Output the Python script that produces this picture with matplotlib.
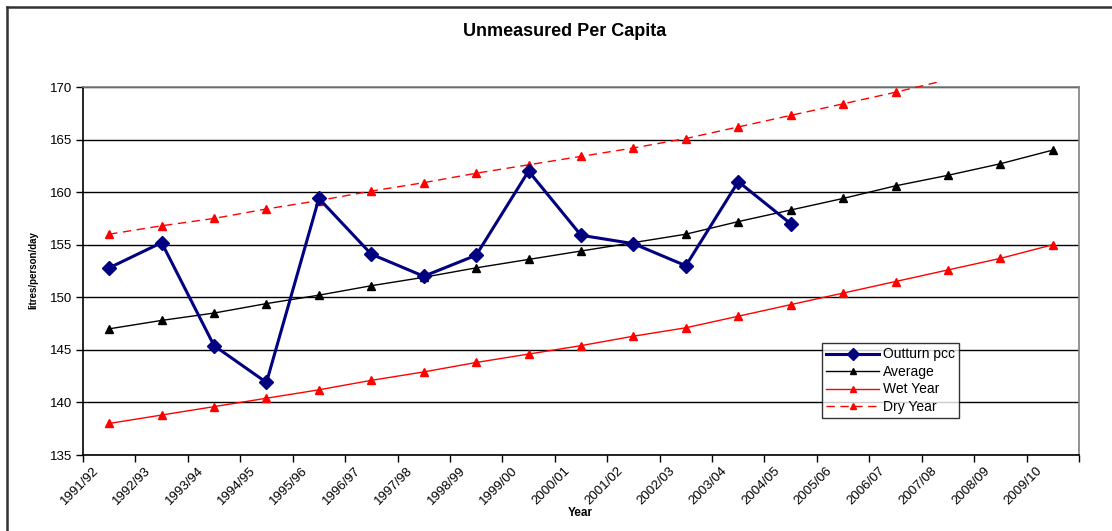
import matplotlib
matplotlib.use("Agg")
import matplotlib.pyplot as plt
from matplotlib.lines import Line2D
from matplotlib.patches import Rectangle
import matplotlib.transforms as mtransforms

plt.rcParams['font.family'] = ['Liberation Sans', 'DejaVu Sans']

years = ['1991/92', '1992/93', '1993/94', '1994/95', '1995/96', '1996/97',
         '1997/98', '1998/99', '1999/00', '2000/01', '2001/02', '2002/03',
         '2003/04', '2004/05', '2005/06', '2006/07', '2007/08', '2008/09',
         '2009/10']
outturn = [152.8, 155.2, 145.4, 141.9, 159.4, 154.1, 152.0, 154.0, 162.0,
           155.9, 155.1, 153.0, 161.0, 157.0]
average = [147.0, 147.8, 148.5, 149.4, 150.2, 151.1, 151.9, 152.8, 153.6,
           154.4, 155.2, 156.0, 157.2, 158.3, 159.4, 160.6, 161.6, 162.7, 164.0]
wet = [138.0, 138.8, 139.6, 140.4, 141.2, 142.1, 142.9, 143.8, 144.6,
       145.4, 146.3, 147.1, 148.2, 149.3, 150.4, 151.5, 152.6, 153.7, 155.0]
dry = [156.0, 156.8, 157.5, 158.4, 159.2, 160.1, 160.9, 161.8, 162.6,
       163.4, 164.2, 165.1, 166.2, 167.3, 168.4, 169.5, 170.7, 171.8, 173.0]

W, H = 1112, 531
fig = plt.figure(figsize=(W / 100, H / 100), dpi=100)
# plot area in pixels: left 83, right 1079, top 87, bottom 455
ax = fig.add_axes([83 / W, 1 - 455 / H, (1079 - 83) / W, (455 - 87) / H])

x = list(range(len(years)))
ax.set_xlim(-0.5, len(years) - 0.5)
ax.set_ylim(135, 170)

ax.yaxis.grid(True, color='black', linewidth=1)
ax.set_axisbelow(True)

ax.plot(x[:len(outturn)], outturn, color='#000080', linewidth=2.2,
        marker='D', markersize=7.5, label='Outturn pcc', zorder=5)
ax.plot(x, average, color='black', linewidth=1, marker='^', markersize=6,
        label='Average', zorder=4)
ax.plot(x, wet, color='red', linewidth=1, marker='^', markersize=6,
        label='Wet Year', zorder=4)
keep = [i for i, v in enumerate(dry) if v <= 170]
dline, = ax.plot(x, dry, color='red', linewidth=1, linestyle=(0, (6, 4)),
                 marker='^', markersize=6, markevery=keep, label='Dry Year',
                 zorder=4)
dline.set_clip_path(Rectangle((0, 0), 1, 1.014, transform=ax.transAxes))

ax.set_yticks(range(135, 171, 5))
ax.tick_params(axis='y', direction='out', length=5, width=1, labelsize=9.5,
               pad=3, color='black')
ax.set_xticks(x)
ax.set_xticklabels(years, rotation=45, ha='right', va='top',
                   rotation_mode='anchor', fontsize=9.5)
ax.tick_params(axis='x', length=0, pad=7)
offset = mtransforms.ScaledTranslation(-0.17, 0, fig.dpi_scale_trans)
for lab in ax.get_xticklabels():
    lab.set_transform(lab.get_transform() + offset)
ax.set_xticks([i - 0.5 for i in range(len(years) + 1)], minor=True)
ax.tick_params(axis='x', which='minor', direction='out', length=5, width=1,
               color='black')

for s in ['left', 'bottom']:
    ax.spines[s].set_color('black')
    ax.spines[s].set_linewidth(1.2)
for s in ['top', 'right']:
    ax.spines[s].set_color('#808080')
    ax.spines[s].set_linewidth(1.2)

fig.text(565 / W, 1 - 32 / H, 'Unmeasured Per Capita', ha='center',
         va='center', fontsize=13, fontweight='bold')
fig.text(33 / W, 1 - 270 / H, 'litres/person/day', ha='center', va='center',
         rotation=90, fontsize=7, fontweight='bold')
fig.text(580 / W, 1 - 513 / H, 'Year', ha='center', va='center',
         fontsize=8.5, fontweight='bold')

leg = ax.legend(loc='lower left', bbox_to_anchor=((822 - 83) / 996, (455 - 418) / 368),
                fontsize=10, frameon=True, fancybox=False, handlelength=3.8,
                borderpad=0.3, labelspacing=0.25, handletextpad=0.3,
                borderaxespad=0, markerscale=0.8)
leg.get_frame().set_edgecolor('black')
leg.get_frame().set_linewidth(1)

# outer chart border (top and left visible)
fig.add_artist(Line2D([7 / W, 1], [1 - 7 / H, 1 - 7 / H], color='#333333',
                      linewidth=1.8, transform=fig.transFigure))
fig.add_artist(Line2D([7 / W, 7 / W], [0, 1 - 7 / H], color='#333333',
                      linewidth=1.8, transform=fig.transFigure))

fig.savefig('out.png', dpi=100)
